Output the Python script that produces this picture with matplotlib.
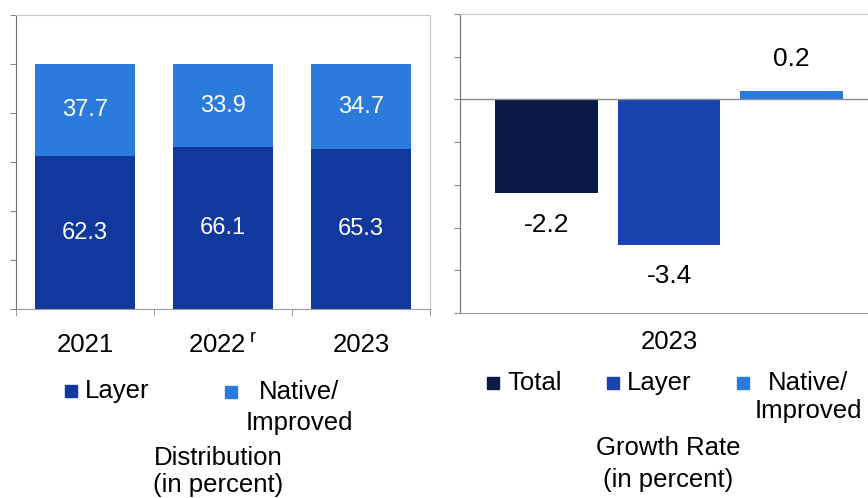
import matplotlib
matplotlib.use("Agg")
import matplotlib.pyplot as plt
from matplotlib.patches import Rectangle
import numpy as np

plt.rcParams['font.family'] = ['Liberation Sans', 'DejaVu Sans']
plt.rcParams['mathtext.fontset'] = 'custom'
plt.rcParams['mathtext.rm'] = 'Liberation Sans'

# distribution (left panel)
years = ['2021', '2022$\\,^{\\mathrm{r}}$', '2023']
layer_share = [62.3, 66.1, 65.3]
native_share = [37.7, 33.9, 34.7]

# growth rate (right panel)
growth_year = '2023'
growth_series = ['Total', 'Layer', 'Native/\nImproved']
growth_rate = [-2.2, -3.4, 0.2]

C_TOTAL = '#0b1a45'
C_LAYER = '#11389d'
C_LAYER2 = '#1a43b0'
C_NATIVE = '#2b7bdc'

W, H = 868, 498
FS = 18.5
fig = plt.figure(figsize=(W / 100, H / 100), dpi=100)


def px_axes(x0, y0, x1, y1):
    # axes box given in pixel coords (top-left origin)
    return fig.add_axes([x0 / W, 1 - y1 / H, (x1 - x0) / W, (y1 - y0) / H])


def lines(x, baselines, text, ha='left'):
    # one fig.text per line so each baseline sits where it should
    for yb, s in zip(baselines, text.split('\n')):
        fig.text(x / W, 1 - yb / H, s, fontsize=FS, ha=ha, va='baseline')


def key(x, base, color, label, tx, ha='left', step=30):
    fig.patches.append(Rectangle((x / W, 1 - (base - 1) / H), 12 / W, 12 / H,
                                 transform=fig.transFigure, color=color))
    n = label.count('\n') + 1
    lines(tx, [base + i * step for i in range(n)], label, ha=ha)


def style(ax):
    ax.spines['left'].set_color('#707070')
    ax.spines['bottom'].set_color('#9a9a9a')
    ax.spines['top'].set_color('#c8c8c8')
    ax.spines['right'].set_color('#c8c8c8')
    ax.tick_params(axis='y', length=4, color='#8a8a8a', labelleft=False)


# ---- left: distribution
ax1 = px_axes(16, 15, 430, 309)
x = np.arange(len(years))
b1 = ax1.bar(x, layer_share, 0.72, color=C_LAYER)
b2 = ax1.bar(x, native_share, 0.72, bottom=layer_share, color=C_NATIVE)
ax1.bar_label(b1, fmt='%.1f', label_type='center', color='white', fontsize=17)
ax1.bar_label(b2, fmt='%.1f', label_type='center', color='white', fontsize=17)
ax1.set_xlim(-0.5, len(years) - 0.5)
ax1.set_ylim(0, 120)
ax1.set_yticks(range(0, 121, 20))
ax1.set_xticks(x, years, fontsize=FS)
ax1.set_xticks(np.arange(len(years) + 1) - 0.5, minor=True)
ax1.tick_params(axis='x', which='major', length=0, pad=17)
ax1.tick_params(axis='x', which='minor', length=5, color='#8a8a8a')
style(ax1)

# ---- right: growth rate
ax2 = px_axes(460, 14, 878, 313)
offs = np.array([-1, 0, 1]) * 0.293
b3 = ax2.bar(offs, growth_rate, 0.246, color=[C_TOTAL, C_LAYER2, C_NATIVE])
ax2.bar_label(b3, fmt='%.1f', padding=14, fontsize=19)
ax2.axhline(0, color='#8a8a8a', lw=1)
ax2.set_xlim(-0.5, 0.5)
ax2.set_ylim(-5, 2)
ax2.set_yticks(range(-5, 3))
ax2.set_xticks([0], [growth_year], fontsize=FS)
ax2.tick_params(axis='x', length=0, pad=12)
style(ax2)

# legends
key(65, 398, C_LAYER, 'Layer', 85)
key(225, 399, C_NATIVE, 'Native/\nImproved', 299, ha='center', step=31)
key(487, 390, C_TOTAL, growth_series[0], 507)
key(607, 390, C_LAYER2, growth_series[1], 627)
key(737, 390, C_NATIVE, growth_series[2], 808, ha='center', step=28)

lines(218, [465, 492], 'Distribution\n(in percent)', ha='center')
lines(668, [455, 487], 'Growth Rate\n(in percent)', ha='center')

fig.savefig('out.png', dpi=100)
